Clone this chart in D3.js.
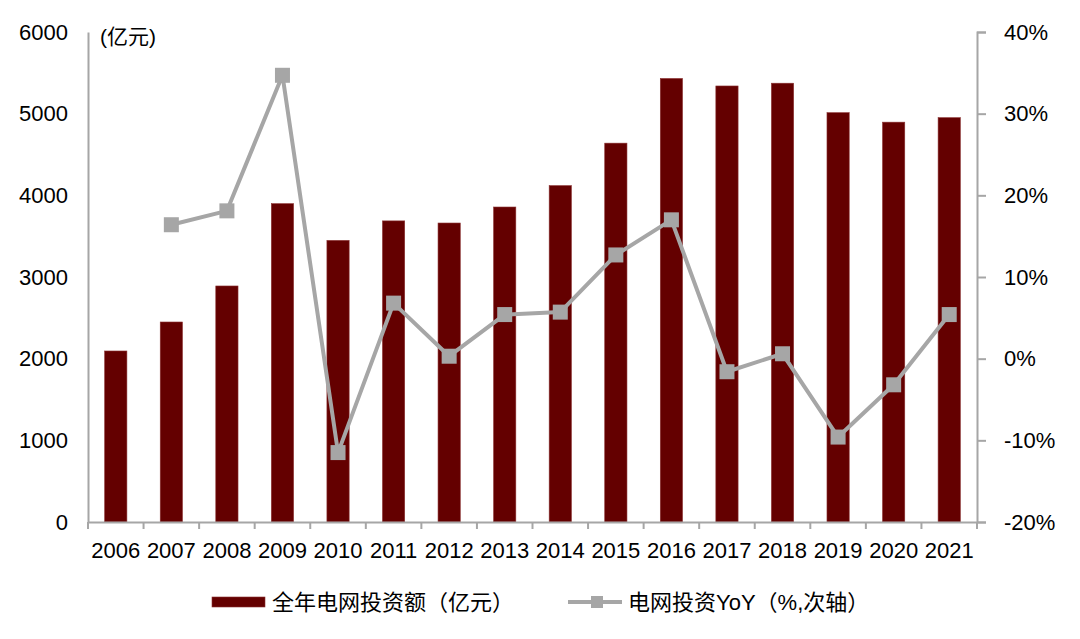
<!DOCTYPE html>
<html><head><meta charset="utf-8">
<script src="https://cdn.jsdelivr.net/npm/d3@7"></script>
<style>
body{margin:0;background:#fff;}
svg text{font-family:"Liberation Sans",Arial,"Noto Sans CJK SC",sans-serif;fill:#000;}
</style></head>
<body>
<svg id="c" width="1080" height="639"></svg>
<script>
const years = ["2006","2007","2008","2009","2010","2011","2012","2013","2014","2015","2016","2017","2018","2019","2020","2021"];
const investment = [2094,2449,2890,3898,3448,3687,3661,3857,4119,4639,5431,5339,5373,5012,4896,4951];
const yoy = [null,16.4,18.1,34.7,-11.5,6.8,0.3,5.4,5.7,12.7,17.0,-1.6,0.6,-9.6,-3.2,5.4];
const leftTicks = [0,1000,2000,3000,4000,5000,6000];
const rightTicks = [-20,-10,0,10,20,30,40];
const seriesNames = ["全年电网投资额（亿元）","电网投资YoY（%,次轴）"];
const unitLabel = "(亿元)";

const svg = d3.select("#c");
const L = 88, R = 977, T = 32, B = 522;
const axisColor = "#A6A6A6";
const barColor = "#640000";
const lineColor = "#A6A6A6";

const x = d3.scaleBand().domain(years).range([L,R]).paddingInner(0.6).paddingOuter(0.3);
const y = d3.scaleLinear().domain([0,6000]).range([B,T]);
const y2 = d3.scaleLinear().domain([-20,40]).range([B,T]);

// bars
svg.append("g").selectAll("rect").data(years).join("rect")
  .attr("x", d=>x(d)).attr("width", x.bandwidth())
  .attr("y", (d,i)=>y(investment[i])).attr("height",(d,i)=>B-y(investment[i]))
  .attr("fill", barColor).attr("stroke","#8a3030").attr("stroke-width",0.6);

// left axis
const gl = svg.append("g").attr("transform",`translate(${L},0)`)
  .call(d3.axisLeft(y).tickValues(leftTicks).tickSize(0).tickPadding(20).tickFormat(d3.format("d")));
gl.select(".domain").attr("stroke",axisColor).attr("stroke-width",2);
gl.selectAll("text").attr("font-size",22).attr("font-family","Liberation Sans, Arial");

// right axis
const gr = svg.append("g").attr("transform",`translate(${R},0)`)
  .call(d3.axisRight(y2).tickValues(rightTicks).tickSizeOuter(0).tickSize(9).tickPadding(18).tickFormat(d=>d+"%"));
gr.select(".domain").attr("stroke",axisColor).attr("stroke-width",2);
gr.selectAll(".tick line").attr("stroke",axisColor).attr("stroke-width",2);
gr.selectAll("text").attr("font-family","DejaVu Sans, Liberation Sans").attr("font-size",22);

// bottom axis
const gb = svg.append("g").attr("transform",`translate(0,${B})`)
  .call(d3.axisBottom(x).tickSize(0).tickPadding(20).tickSizeOuter(0));
gb.select(".domain").attr("stroke",axisColor).attr("stroke-width",2);
gb.selectAll("text").attr("font-size",22).attr("font-family","Liberation Sans, Arial");
const step = x.step();
const bounds = years.map(d=>x(d)-(step-x.bandwidth())/2).concat([R]);
gb.selectAll("line.bt").data(bounds).join("line").attr("class","bt")
  .attr("x1",d=>d).attr("x2",d=>d).attr("y1",0).attr("y2",7)
  .attr("stroke",axisColor).attr("stroke-width",2);

// line series
const pts = years.map((d,i)=>({d, v:yoy[i]})).filter(p=>p.v!==null);
const line = d3.line().x(p=>x(p.d)+x.bandwidth()/2).y(p=>y2(p.v));
svg.append("path").datum(pts).attr("d",line).attr("fill","none")
  .attr("stroke",lineColor).attr("stroke-width",4).attr("stroke-linejoin","round");
const ms = 15;
svg.append("g").selectAll("rect").data(pts).join("rect")
  .attr("x",p=>x(p.d)+x.bandwidth()/2-ms/2).attr("y",p=>y2(p.v)-ms/2)
  .attr("width",ms).attr("height",ms).attr("fill",lineColor);

// unit label
svg.append("text").attr("x",100).attr("y",44).attr("font-size",21)
  .attr("font-family","Liberation Sans, Noto Sans CJK SC").text(unitLabel);

// legend
const ly = 602;
svg.append("rect").attr("x",212).attr("y",ly-5).attr("width",53).attr("height",10)
  .attr("fill",barColor).attr("stroke","#8a3030").attr("stroke-width",0.6);
svg.append("text").attr("x",272).attr("y",ly+8).attr("font-size",22)
  .attr("font-family","Noto Sans CJK SC, Liberation Sans").text(seriesNames[0]);
svg.append("line").attr("x1",568).attr("x2",622).attr("y1",ly).attr("y2",ly)
  .attr("stroke",lineColor).attr("stroke-width",4);
svg.append("rect").attr("x",597-6).attr("y",ly-6).attr("width",12).attr("height",12).attr("fill",lineColor);
svg.append("text").attr("x",628).attr("y",ly+8).attr("font-size",22)
  .attr("font-family","Noto Sans CJK SC, Liberation Sans").text(seriesNames[1]);
</script>
</body></html>
